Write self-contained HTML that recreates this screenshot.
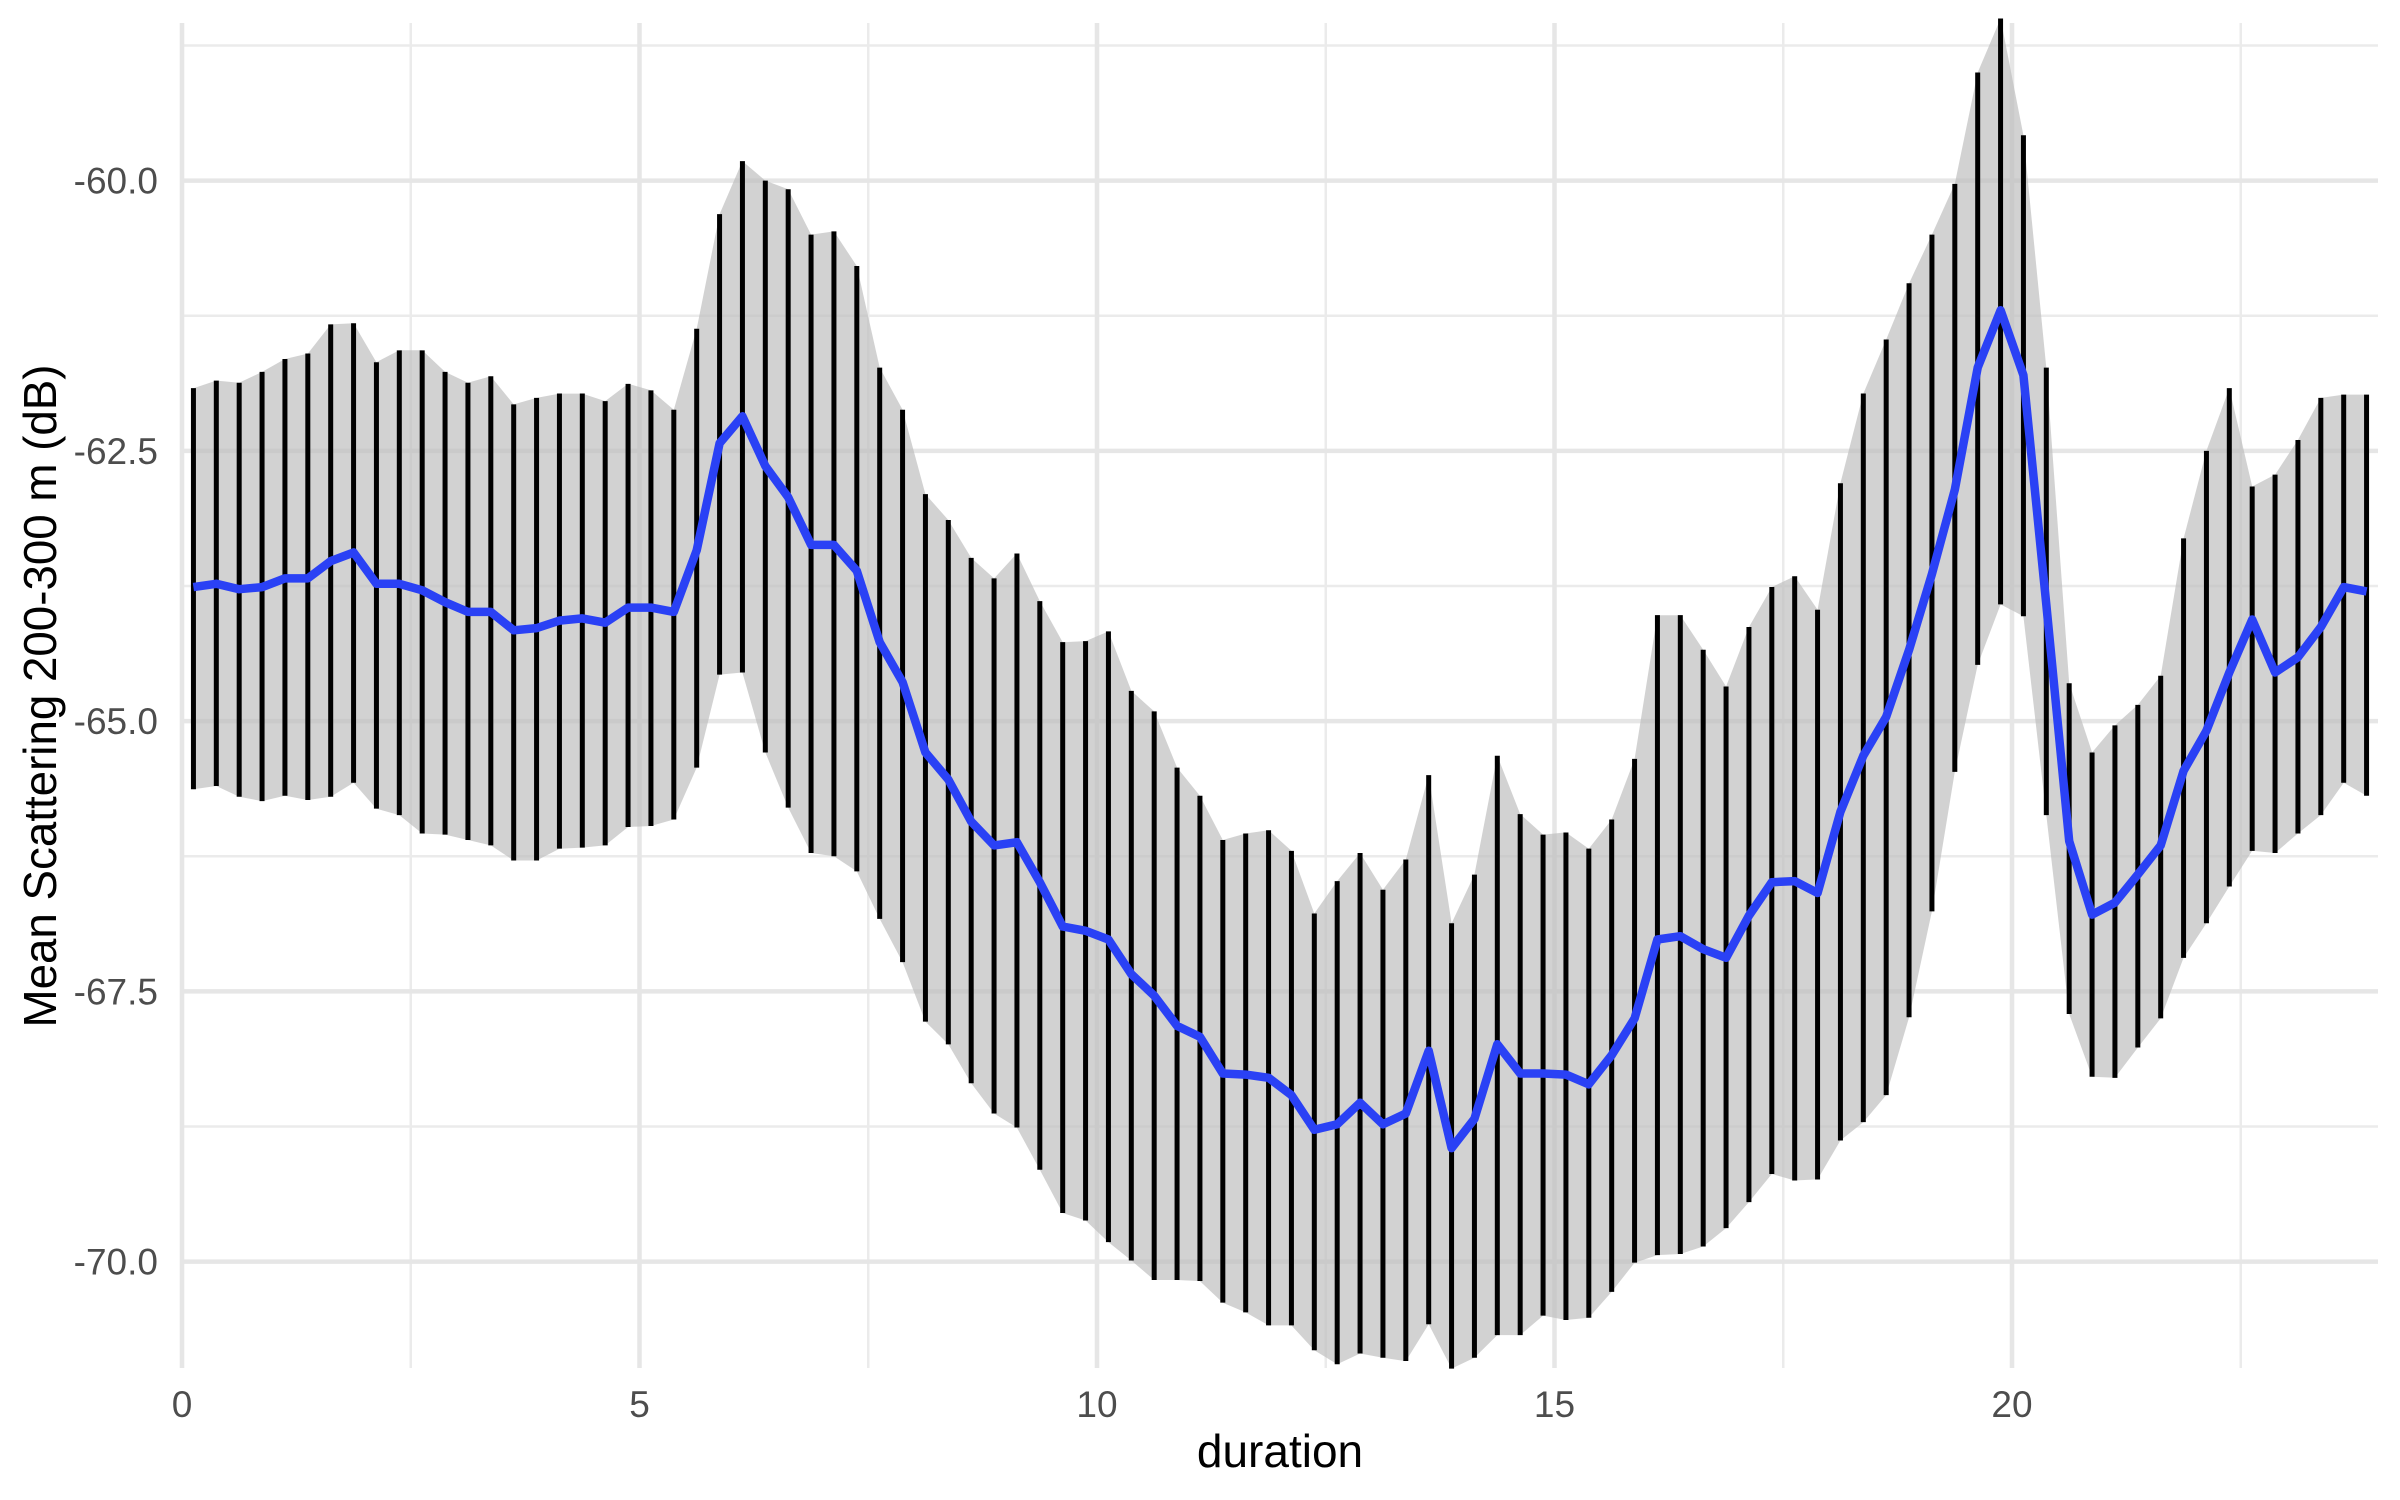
<!DOCTYPE html>
<html><head><meta charset="utf-8"><style>
html,body{margin:0;padding:0;background:#fff;}
svg{display:block;font-family:"Liberation Sans",Arial,sans-serif;}
</style></head><body>
<svg id="chart" width="2400" height="1500" viewBox="0 0 2400 1500" xmlns="http://www.w3.org/2000/svg">
<g id="grid"></g>
<g id="ribbon"></g>
<g id="bars"></g>
<g id="line"></g>
<g id="axes"></g>
<text x="1280" y="1467" font-size="46" text-anchor="middle" fill="#000">duration</text>
<text transform="translate(56,696) rotate(-90)" font-size="46" text-anchor="middle" fill="#000" textLength="663" lengthAdjust="spacingAndGlyphs">Mean Scattering 200-300 m (dB)</text>
</svg>
<script>
const xStart = 0.125, xStep = 0.25;
const meanVals = [-63.76,-63.73,-63.78,-63.76,-63.68,-63.68,-63.52,-63.44,-63.73,-63.73,-63.79,-63.90,-63.99,-63.99,-64.16,-64.14,-64.07,-64.05,-64.09,-63.95,-63.95,-63.99,-63.42,-62.43,-62.18,-62.64,-62.93,-63.37,-63.37,-63.61,-64.27,-64.64,-65.29,-65.54,-65.93,-66.15,-66.12,-66.49,-66.90,-66.94,-67.02,-67.34,-67.54,-67.82,-67.92,-68.26,-68.27,-68.30,-68.46,-68.78,-68.73,-68.53,-68.73,-68.63,-68.05,-68.95,-68.68,-67.99,-68.26,-68.26,-68.27,-68.36,-68.09,-67.75,-67.02,-66.99,-67.11,-67.19,-66.80,-66.49,-66.48,-66.59,-65.84,-65.32,-64.96,-64.34,-63.64,-62.86,-61.73,-61.20,-61.80,-63.92,-66.11,-66.79,-66.68,-66.42,-66.15,-65.46,-65.09,-64.55,-64.06,-64.55,-64.41,-64.13,-63.76,-63.80];
const upperVals = [-61.92,-61.85,-61.87,-61.77,-61.65,-61.60,-61.33,-61.32,-61.68,-61.57,-61.57,-61.77,-61.87,-61.81,-62.07,-62.01,-61.97,-61.97,-62.04,-61.88,-61.94,-62.12,-61.37,-60.31,-59.82,-60.00,-60.08,-60.50,-60.47,-60.79,-61.73,-62.12,-62.90,-63.14,-63.49,-63.68,-63.45,-63.89,-64.27,-64.26,-64.17,-64.72,-64.91,-65.43,-65.69,-66.10,-66.04,-66.01,-66.20,-66.78,-66.48,-66.22,-66.56,-66.28,-65.50,-66.87,-66.42,-65.32,-65.86,-66.05,-66.03,-66.18,-65.91,-65.35,-64.02,-64.02,-64.34,-64.68,-64.13,-63.76,-63.66,-63.97,-62.80,-61.97,-61.47,-60.95,-60.50,-60.03,-59.00,-58.50,-59.58,-61.73,-64.65,-65.29,-65.04,-64.85,-64.58,-63.31,-62.50,-61.92,-62.83,-62.72,-62.40,-62.01,-61.98,-61.98];
const lowerVals = [-65.63,-65.60,-65.70,-65.74,-65.69,-65.73,-65.70,-65.57,-65.81,-65.87,-66.04,-66.05,-66.10,-66.15,-66.29,-66.29,-66.18,-66.17,-66.15,-65.98,-65.97,-65.91,-65.43,-64.57,-64.55,-65.29,-65.80,-66.22,-66.25,-66.39,-66.83,-67.23,-67.78,-67.99,-68.35,-68.63,-68.76,-69.15,-69.55,-69.62,-69.82,-69.99,-70.17,-70.17,-70.18,-70.38,-70.47,-70.59,-70.59,-70.82,-70.95,-70.85,-70.89,-70.92,-70.58,-70.99,-70.89,-70.68,-70.68,-70.50,-70.54,-70.52,-70.28,-70.01,-69.94,-69.93,-69.86,-69.69,-69.45,-69.19,-69.25,-69.24,-68.88,-68.71,-68.46,-67.74,-66.76,-65.47,-64.48,-63.92,-64.03,-65.87,-67.71,-68.29,-68.30,-68.02,-67.75,-67.19,-66.87,-66.53,-66.20,-66.22,-66.04,-65.87,-65.57,-65.69];
const xTicks = [0,5,10,15,20];
const xTickLabels = ["0","5","10","15","20"];
const xMinor = [2.5,7.5,12.5,17.5,22.5];
const yTicks = [-60,-62.5,-65,-67.5,-70];
const yTickLabels = ["-60.0","-62.5","-65.0","-67.5","-70.0"];
const yMinor = [-58.75,-61.25,-63.75,-66.25,-68.75];

const NS = "http://www.w3.org/2000/svg";
const PL = 182, PR = 2378, PT = 23, PB = 1368;
function X(v){ return 182 + v * 91.5; }
function Y(v){ return 180.6 + (-60 - v) * 108.1; }
function mk(tag, attrs, parent){ const e = document.createElementNS(NS, tag); for (const k in attrs) e.setAttribute(k, attrs[k]); parent.appendChild(e); return e; }

const grid = document.getElementById('grid');
xMinor.forEach(v => { const l = mk('line', {x1:X(v),x2:X(v),y1:PT,y2:PB,stroke:'#ebebeb','stroke-width':2.5}, grid);
  
   });
yMinor.forEach(v => { if (Y(v) < PT) return; const l = mk('line', {x1:PL,x2:PR,y1:Y(v),y2:Y(v),stroke:'#ebebeb','stroke-width':2.5}, grid);
  
   });
xTicks.forEach(v => { const l = mk('line', {x1:X(v),x2:X(v),y1:PT,y2:PB,stroke:'#e6e6e6','stroke-width':4.5}, grid);
  
   });
yTicks.forEach(v => { const l = mk('line', {x1:PL,x2:PR,y1:Y(v),y2:Y(v),stroke:'#e6e6e6','stroke-width':4.5}, grid);
  
   });

const xs = meanVals.map((_, i) => xStart + xStep * i);
let d = '';
xs.forEach((x, i) => { d += (i ? 'L' : 'M') + X(x).toFixed(1) + ',' + Y(upperVals[i]).toFixed(1); });
for (let i = xs.length - 1; i >= 0; i--) d += 'L' + X(xs[i]).toFixed(1) + ',' + Y(lowerVals[i]).toFixed(1);
d += 'Z';
const rib = mk('path', {d:d, fill:'#bdbdbd', 'fill-opacity':0.68}, document.getElementById('ribbon'));



const bars = document.getElementById('bars');
xs.forEach((x, i) => { const l = mk('line', {x1:X(x),x2:X(x),y1:Y(upperVals[i]),y2:Y(lowerVals[i]),stroke:'#000','stroke-width':5}, bars);
  
   });

let ld = '';
xs.forEach((x, i) => { ld += (i ? 'L' : 'M') + X(x).toFixed(1) + ',' + Y(meanVals[i]).toFixed(1); });
const ml = mk('path', {d:ld, fill:'none', stroke:'#2a41f5', 'stroke-width':8.5, 'stroke-linejoin':'round'}, document.getElementById('line'));



const axes = document.getElementById('axes');
xTicks.forEach((v, i) => { const t = mk('text', {x:X(v), y:1417, 'font-size':37, 'text-anchor':'middle', fill:'#4d4d4d'}, axes);
  t.textContent = xTickLabels[i];
  
   });
yTicks.forEach((v, i) => { const t = mk('text', {x:158, y:Y(v)+13, 'font-size':37, 'text-anchor':'end', fill:'#4d4d4d'}, axes);
  t.textContent = yTickLabels[i];
  
   });
</script>
</body></html>
